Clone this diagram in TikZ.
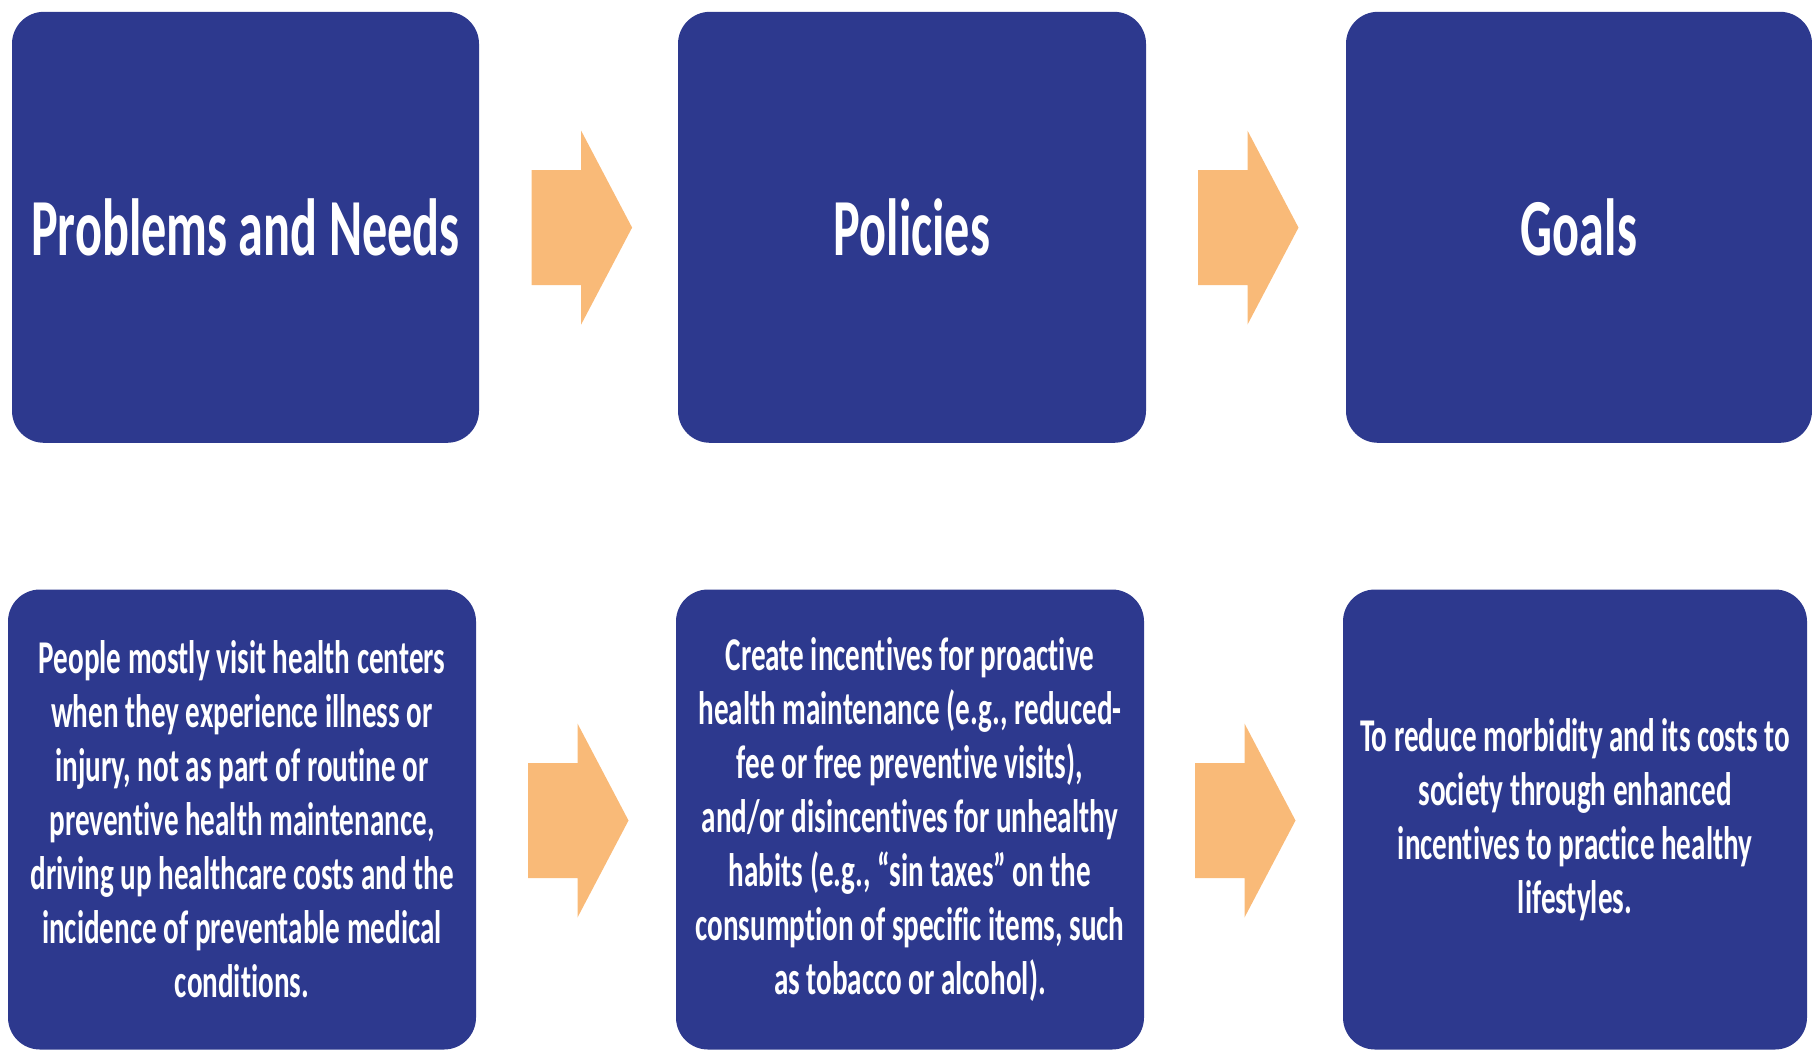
\documentclass[tikz,border=0pt]{standalone}
\usepackage{fontspec}
\newfontfamily\condfont{Carlito}[FakeStretch=0.62,Ligatures=NoCommon]
\definecolor{boxblue}{RGB}{45,57,142}
\definecolor{arroworange}{RGB}{249,186,120}
\tikzset{
  panel/.style={fill=boxblue, rounded corners=32pt, inner sep=0pt, align=center, text=white, font=\condfont\bfseries},
  headbox/.style={panel, font=\condfont\bfseries\fontsize{81}{90}\selectfont},
  bodybox/.style={panel, font=\condfont\bfseries\fontsize{47}{54}\selectfont},
  fatarrow/.style={fill=arroworange}
}
\newcommand\myfatarrow[2]{%
  \fill[fatarrow] (#1,#2) ++(0,-57.5) -- ++(49.5,0) -- ++(0,-39.5) -- ++(51,97) -- ++(-51,97) -- ++(0,-39.5) -- ++(-49.5,0) -- cycle;}
\begin{document}
\begin{tikzpicture}[x=1pt,y=-1pt]
\useasboundingbox (0,0) rectangle (1812,1050);
% top row
\node[headbox, minimum width=467pt, minimum height=431pt] (pn) at (245.5,227.3) {Problems and Needs};
\node[headbox, minimum width=468pt, minimum height=431pt] (po) at (912,227.3) {Policies};
\node[headbox, minimum width=466pt, minimum height=431pt] (go) at (1579,227.3) {Goals};
% bottom row
\node[bodybox, minimum width=468pt, minimum height=460pt] (pnt) at (242,819.5) {People mostly visit health centers\\when they experience illness or\\injury, not as part of routine or\\preventive health maintenance,\\driving up healthcare costs and the\\incidence of preventable medical\\conditions.};
\node[bodybox, minimum width=468pt, minimum height=460pt] (pot) at (910,819.5) {Create incentives for proactive\\health maintenance (e.g., reduced-\\fee or free preventive visits),\\and/or disincentives for unhealthy\\habits (e.g., “sin taxes” on the\\consumption of specific items, such\\as tobacco or alcohol).};
\node[bodybox, minimum width=464pt, minimum height=460pt] (got) at (1575,819.5) {To reduce morbidity and its costs to\\society through enhanced\\incentives to practice healthy\\lifestyles.};
% arrows
\myfatarrow{531.6}{227.6}
\myfatarrow{1198}{227.6}
\myfatarrow{528}{820.5}
\myfatarrow{1195}{820.5}
\end{tikzpicture}
\end{document}
